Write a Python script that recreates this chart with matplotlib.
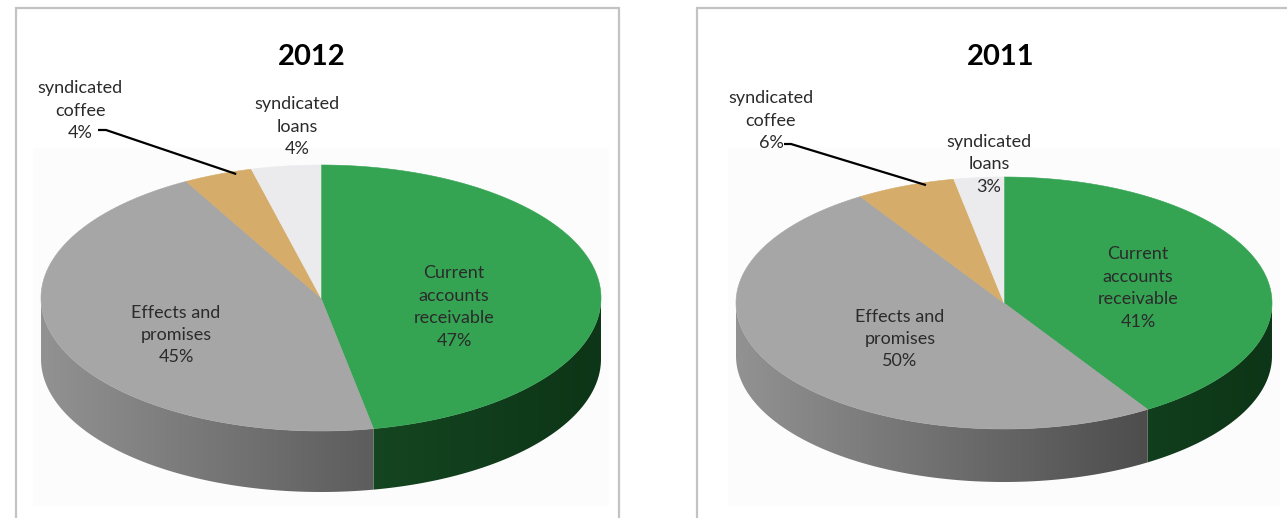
import numpy as np
import matplotlib
matplotlib.use("Agg")
import matplotlib.pyplot as plt
from matplotlib.patches import Polygon, Rectangle
from matplotlib.colors import to_rgb

plt.rcParams["font.family"] = ["Lato", "DejaVu Sans"]

# data
categories = ["Current\naccounts\nreceivable", "Effects and\npromises",
              "syndicated\ncoffee", "syndicated\nloans"]
years = ["2012", "2011"]
shares_2012 = [47, 45, 4, 4]
shares_2011 = [41, 50, 6, 3]

# styles
top_colors = ["#34a352", "#a6a6a6", "#d5ac6a", "#ebebed"]
side_left = ["#1f5e2f", "#929292", "#a88450", "#b8b8b8"]
side_right = ["#0d3517", "#383838", "#6e5630", "#7a7a7a"]
text_color = "#2b2b2b"


def draw_pie(ax, values, cx, cy, a, b, depth):
    total = float(sum(values))
    bounds = np.concatenate([[0], np.cumsum(values)]) / total * 2 * np.pi

    # side walls (only the front half is visible)
    for i in range(len(values)):
        lo = max(bounds[i], np.pi / 2)
        hi = min(bounds[i + 1], 3 * np.pi / 2)
        if hi <= lo:
            continue
        th = np.linspace(lo, hi, 200)
        x = cx + a * np.sin(th)
        y = cy - b * np.cos(th)
        verts = np.column_stack([np.r_[x, x[::-1]], np.r_[y, y[::-1] + depth]])
        poly = Polygon(verts, closed=True, facecolor="none", edgecolor="none")
        ax.add_patch(poly)
        c0 = np.array(to_rgb(side_left[i]))
        c1 = np.array(to_rgb(side_right[i]))
        t = np.linspace(0, 1, 256)[:, None]
        grad = (c0 + (c1 - c0) * t)[None, :, :]
        im = ax.imshow(grad, extent=(cx - a, cx + a, cy + b + depth, cy - b),
                       aspect="auto", interpolation="bilinear", zorder=2)
        im.set_clip_path(poly)

    # top face
    for i in range(len(values)):
        th = np.linspace(bounds[i], bounds[i + 1], 200)
        x = np.r_[cx, cx + a * np.sin(th)]
        y = np.r_[cy, cy - b * np.cos(th)]
        ax.add_patch(Polygon(np.column_stack([x, y]), closed=True,
                             facecolor=top_colors[i], edgecolor=top_colors[i],
                             linewidth=0.4, zorder=3))
    return bounds


fig = plt.figure(figsize=(12.87, 5.18), dpi=100)
ax = fig.add_axes([0, 0, 1, 1])
ax.set_axis_off()

panels = [
    dict(year=years[0], values=shares_2012, frame=(16, 8, 603), title_x=312,
         cx=321, cy=298, a=280, b=133, depth=61,
         labels=[(454, 307), (176, 335), (80, 111), (297, 127)],
         leader=(98, 106, 130), tip_frac=0.75),
    dict(year=years[1], values=shares_2011, frame=(697, 8, 700), title_x=1001,
         cx=1004, cy=303, a=268, b=126, depth=53,
         labels=[(1138, 288), (900, 339), (771, 121), (989, 164)],
         leader=(784, 791, 144), tip_frac=0.70),
]

for p in panels:
    fx, fy, fw = p["frame"]
    ax.add_patch(Rectangle((fx, fy), fw, 530, facecolor="white",
                           edgecolor="#c3c3c3", linewidth=1.6, zorder=0))
    ax.add_patch(Rectangle((p["cx"] - p["a"] - 8, 148), 2 * p["a"] + 16, 358,
                           facecolor="#fcfcfc", edgecolor="none", zorder=1))

    bounds = draw_pie(ax, p["values"], p["cx"], p["cy"], p["a"], p["b"], p["depth"])

    ax.text(p["title_x"], 57, p["year"], fontsize=21, fontweight="bold",
            ha="center", va="center", color="black", zorder=5)

    for name, val, (lx, ly) in zip(categories, p["values"], p["labels"]):
        ax.text(lx, ly, f"{name}\n{val}%", fontsize=13, ha="center",
                va="center", multialignment="center", linespacing=1.5,
                color=text_color, zorder=5)

    # leader line to the coffee slice
    t0, t1 = bounds[2], bounds[3]
    ang = t0 + p["tip_frac"] * (t1 - t0)
    tip_x = p["cx"] + 0.98 * p["a"] * np.sin(ang)
    tip_y = p["cy"] - 0.98 * p["b"] * np.cos(ang)
    sx0, sx1, sy = p["leader"]
    ax.plot([sx0, sx1, tip_x], [sy, sy, tip_y], color="black", linewidth=1.6,
            solid_capstyle="butt", zorder=6)

ax.set_xlim(0, 1287)
ax.set_ylim(518, 0)

fig.savefig("out.png", dpi=100)
